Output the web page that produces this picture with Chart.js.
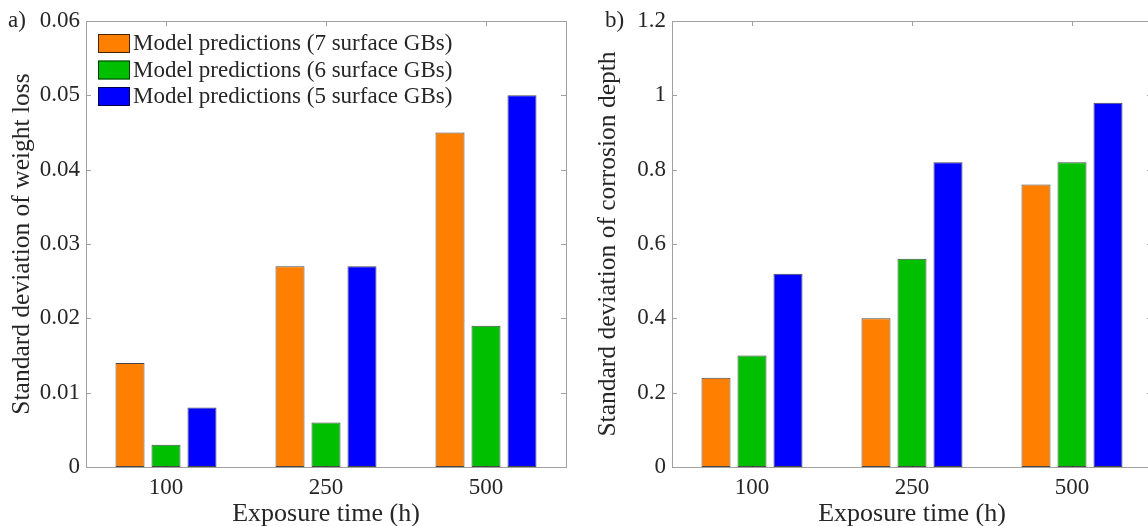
<!DOCTYPE html>
<html>
<head>
<meta charset="utf-8">
<script src="https://cdn.jsdelivr.net/npm/chart.js@4"></script>
<style>
  html, body { margin: 0; padding: 0; background: #fff; overflow: hidden; width: 1148px; height: 526px; }
  canvas { position: absolute; top: 0; }
</style>
</head>
<body>
<canvas id="weightChart" width="574" height="530" style="left:0"></canvas>
<canvas id="depthChart" width="574" height="530" style="left:586px"></canvas>
<script>
// Data
const exposureTimes = ['100', '250', '500'];
const seriesLabels = [
    'Model predictions (7 surface GBs)',
    'Model predictions (6 surface GBs)',
    'Model predictions (5 surface GBs)'
];
const seriesColors = ['#ff8000', '#00bf00', '#0000ff'];

const weightLoss7 = [0.014, 0.027, 0.045];
const weightLoss6 = [0.003, 0.006, 0.019];
const weightLoss5 = [0.008, 0.027, 0.050];

const depth7 = [0.24, 0.40, 0.76];
const depth6 = [0.30, 0.56, 0.82];
const depth5 = [0.52, 0.82, 0.98];

const serif = '"Liberation Serif", "DejaVu Serif", serif';
const textColor = '#262626';
const frameColor = '#a0a0a0';
const edgeColor = 'rgba(0,0,0,0.72)';

// MATLAB-like box with inward ticks on all four sides
const framePlugin = {
    id: 'frame',
    beforeDatasetsDraw(chart) {
        const { ctx, chartArea: a, scales } = chart;
        const len = 5;
        ctx.save();
        ctx.strokeStyle = frameColor;
        ctx.lineWidth = 1;
        ctx.beginPath();
        scales.y.ticks.forEach(t => {
            const y = Math.round(scales.y.getPixelForValue(t.value)) + 0.5;
            ctx.moveTo(a.left, y); ctx.lineTo(a.left + len, y);
            ctx.moveTo(a.right, y); ctx.lineTo(a.right - len, y);
        });
        scales.x.ticks.forEach((t, i) => {
            const x = Math.round(scales.x.getPixelForTick(i)) + 0.5;
            ctx.moveTo(x, a.top); ctx.lineTo(x, a.top + len);
            ctx.moveTo(x, a.bottom); ctx.lineTo(x, a.bottom - len);
        });
        ctx.stroke();
        ctx.strokeRect(Math.round(a.left) + 0.5, Math.round(a.top) + 0.5,
                       Math.round(a.right - a.left), Math.round(a.bottom - a.top));
        ctx.restore();
    },
    afterDraw(chart, args, opts) {
        if (!opts.label) return;
        const { ctx, chartArea: a } = chart;
        ctx.save();
        ctx.fillStyle = textColor;
        ctx.font = '23px ' + serif;
        ctx.textBaseline = 'middle';
        ctx.fillText(opts.label, a.left + opts.labelOffset, a.top);
        ctx.restore();
    }
};

// Legend drawn inside the axes, top-left, no box
const insideLegend = {
    id: 'insideLegend',
    afterDraw(chart, args, opts) {
        if (!opts.display) return;
        const { ctx, chartArea: a } = chart;
        ctx.save();
        ctx.font = '23px ' + serif;
        ctx.textBaseline = 'middle';
        chart.data.datasets.forEach((ds, i) => {
            const x = a.left + 12;
            const y = a.top + 13 + i * 26.5;
            ctx.fillStyle = ds.backgroundColor;
            ctx.fillRect(x, y, 32, 19);
            ctx.strokeStyle = edgeColor;
            ctx.lineWidth = 1;
            ctx.strokeRect(x + 0.5, y + 0.5, 31, 18);
            ctx.fillStyle = textColor;
            ctx.fillText(ds.label, x + 35, y + 10);
        });
        ctx.restore();
    }
};

function makeDatasets(series) {
    return series.map((values, i) => ({
        label: seriesLabels[i],
        data: values,
        backgroundColor: seriesColors[i],
        borderColor: edgeColor,
        borderWidth: 1,
        borderSkipped: false,
        categoryPercentage: 0.675,
        barPercentage: 0.806
    }));
}

function makeOptions(yMax, yStep, yTitle, panelLabel, labelOffset, showLegend) {
    return {
        responsive: false,
        animation: false,
        layout: { padding: { top: 21, left: 0, right: 8, bottom: 0 } },
        plugins: {
            legend: { display: false },
            tooltip: { enabled: false },
            insideLegend: { display: showLegend },
            frame: { label: panelLabel, labelOffset: labelOffset }
        },
        scales: {
            x: {
                grid: { display: false, drawTicks: false },
                border: { display: false },
                ticks: { color: textColor, font: { family: serif, size: 23 }, padding: 7 },
                title: {
                    display: true,
                    text: 'Exposure time (h)',
                    color: textColor,
                    font: { family: serif, size: 26 },
                    padding: { top: 0, bottom: 0 }
                },
                afterFit(scale) { scale.height = 63; }
            },
            y: {
                min: 0,
                max: yMax,
                grid: { display: false, drawTicks: false },
                border: { display: false },
                ticks: {
                    stepSize: yStep,
                    color: textColor,
                    font: { family: serif, size: 23 },
                    padding: 6,
                    callback: v => String(Number(v.toFixed(4)))
                },
                title: {
                    display: true,
                    text: yTitle,
                    color: textColor,
                    font: { family: serif, size: 25.5 },
                    padding: { top: 7, bottom: 0 }
                },
                afterFit(scale) { scale.width = 86; }
            }
        }
    };
}

new Chart(document.getElementById('weightChart'), {
    type: 'bar',
    data: { labels: exposureTimes, datasets: makeDatasets([weightLoss7, weightLoss6, weightLoss5]) },
    options: makeOptions(0.06, 0.01, 'Standard deviation of weight loss', 'a)', -78, true),
    plugins: [framePlugin, insideLegend]
});

new Chart(document.getElementById('depthChart'), {
    type: 'bar',
    data: { labels: exposureTimes, datasets: makeDatasets([depth7, depth6, depth5]) },
    options: makeOptions(1.2, 0.2, 'Standard deviation of corrosion depth', 'b)', -67, false),
    plugins: [framePlugin, insideLegend]
});
</script>
</body>
</html>
